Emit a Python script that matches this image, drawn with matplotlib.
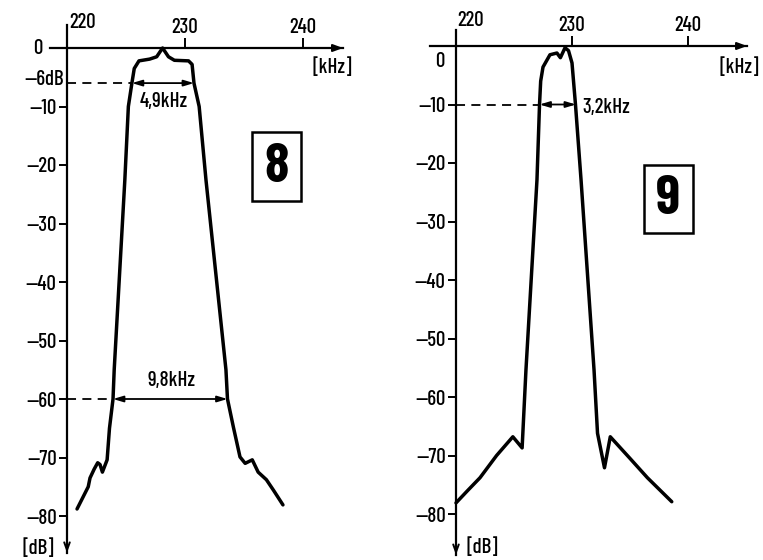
import matplotlib
matplotlib.use('Agg')
import matplotlib.pyplot as plt
from matplotlib.patches import Rectangle

plt.rcParams['font.family'] = ['Barlow Condensed', 'DejaVu Sans']
plt.rcParams['font.weight'] = 'medium'

# curve 8: frequency [kHz] and attenuation [dB]
freq_8 = [220.85, 221.3, 221.8, 221.95, 222.3, 222.6, 222.8, 223.0, 223.4, 223.6,
          223.9, 224.0, 224.9, 225.2, 225.5, 225.7, 226.1, 227.0, 227.6, 228.1,
          228.6, 229.1, 230.3, 230.6, 230.76, 231.2, 231.78, 233.47, 233.6, 234.1,
          234.66, 235.1, 235.7, 236.2, 236.9, 237.5, 238.3]
db_8 = [-78.8, -77.0, -75.0, -73.5, -72.0, -70.9, -71.2, -72.5, -70.4, -65.0,
        -60.0, -55.0, -22.6, -10.0, -6.0, -3.5, -2.2, -1.9, -1.5, 0.0,
        -1.5, -2.1, -2.2, -2.8, -6.0, -10.0, -22.6, -55.0, -60.0, -64.8,
        -69.9, -71.0, -70.4, -72.5, -73.8, -75.6, -78.1]

# curve 9
freq_9 = [220.0, 221.0, 222.07, 223.5, 224.9, 225.7, 226.03, 226.98, 227.2, 227.3,
          227.5, 228.1, 228.7, 229.0, 229.4, 229.7, 230.0, 230.3, 230.78, 231.9,
          232.2, 232.8, 233.3, 235.0, 236.5, 238.6]
db_9 = [-78.1, -76.0, -73.8, -70.0, -66.8, -68.7, -55.4, -22.9, -10.0, -6.0,
        -3.6, -1.5, -1.2, -2.0, -0.3, -0.8, -2.9, -10.0, -22.9, -55.4,
        -66.2, -72.1, -66.8, -70.5, -73.8, -77.9]

x_ticks = [230, 240]
y_ticks = [-10, -20, -30, -40, -50, -60, -70, -80]
y_labels = ['\u201410', '\u201420', '\u201430', '\u201440',
            '\u201450', '\u201460', '\u201470', '\u201480']

# bandwidth markers: (level, left edge, right edge, text)
bw_8 = [(-6, 225.5, 230.76, '4,9kHz'), (-60, 223.9, 233.6, '9,8kHz')]
bw_9 = [(-10, 227.2, 230.34, '3,2kHz')]

W, H = 763, 560
fig = plt.figure(figsize=(W / 100, H / 100), dpi=100)
FS = 15


def make_axes(x0_px, px_per_khz, y0_px, px_per_db, xlim, ylim):
    left = x0_px + (xlim[0] - 220) * px_per_khz
    right = x0_px + (xlim[1] - 220) * px_per_khz
    top = y0_px - ylim[1] * px_per_db
    bottom = y0_px - ylim[0] * px_per_db
    ax = fig.add_axes([left / W, 1 - bottom / H, (right - left) / W, (bottom - top) / H])
    ax.set_xlim(*xlim)
    ax.set_ylim(*ylim)
    ax.patch.set_alpha(0)
    return ax


def setup(ax, xaxis_from, xaxis_to, yaxis_top, yaxis_bottom):
    for s in ['bottom', 'right']:
        ax.spines[s].set_visible(False)
    ax.spines['left'].set_position(('data', 220))
    ax.spines['top'].set_position(('data', 0))
    ax.spines['left'].set_bounds(yaxis_bottom, yaxis_top)
    ax.spines['top'].set_bounds(xaxis_from, xaxis_to)
    ax.spines['left'].set_linewidth(1.6)
    ax.spines['top'].set_linewidth(1.6)
    ax.xaxis.set_ticks_position('top')
    ax.set_xticks(x_ticks, [str(t) for t in x_ticks])
    ax.tick_params(axis='x', direction='out', length=7, width=1.4, pad=1, labelsize=FS)
    ax.set_yticks(y_ticks, y_labels)
    ax.tick_params(axis='y', direction='out', length=6, width=1.4, pad=1.5, labelsize=FS)
    ax.annotate('', xy=(xaxis_to, 0), xytext=(xaxis_to - 1.5, 0),
                arrowprops=dict(arrowstyle='-|>,head_length=0.6,head_width=0.22',
                                color='black', lw=1.4, shrinkA=0, shrinkB=0))
    ax.annotate('', xy=(220, yaxis_bottom), xytext=(220, yaxis_bottom + 4),
                arrowprops=dict(arrowstyle='->,head_length=0.55,head_width=0.2',
                                color='black', lw=1.4, shrinkA=0, shrinkB=0))
    ax.text(220.15, 4.4, '220', ha='left', va='center', fontsize=FS)


def bandwidth(ax, marks, text_pos):
    for (lvl, f1, f2, txt), (tx, ty, ha) in zip(marks, text_pos):
        ax.plot([220, f1], [lvl, lvl], color='black', lw=1.3, ls=(0, (5, 3.5)))
        ax.annotate('', xy=(f2, lvl), xytext=(f1, lvl),
                    arrowprops=dict(arrowstyle='<|-|>,head_length=0.6,head_width=0.18',
                                    color='black', lw=1.3, shrinkA=0, shrinkB=0))
        ax.text(tx, ty, txt, ha=ha, va='center', fontsize=FS)


# ---- panel 8
ax1 = make_axes(67, 11.8, 48, 5.85, (217, 245), (-87.5, 5))
setup(ax1, 218.6, 243.4, 3.9, -86.3)
ax1.plot(freq_8, db_8, color='black', lw=2.5, solid_joinstyle='round', solid_capstyle='round')
bandwidth(ax1, bw_8, [(228.2, -9.1, 'center'), (228.9, -56.9, 'center')])
ax1.text(217.5, 0, '0', ha='center', va='center', fontsize=FS)
ax1.text(219.7, -5.4, '\u20146dB', ha='right', va='center', fontsize=FS)
ax1.text(242.5, -3.3, '[kHz]', ha='center', va='center', fontsize=FS)
ax1.text(217.55, -85.5, '[dB]', ha='center', va='center', fontsize=FS, clip_on=False)
ax1.add_patch(Rectangle((235.7, -26.2), 4.15, 11.8, fill=False, lw=1.8, color='black'))
ax1.text(237.78, -20.4, '8', ha='center', va='center', fontsize=40, fontweight='bold')

# ---- panel 9
ax2 = make_axes(456, 11.6, 46, 5.85, (216, 246), (-87.5, 5))
setup(ax2, 217.8, 245.1, 2.7, -87.0)
ax2.plot(freq_9, db_9, color='black', lw=2.5, solid_joinstyle='round', solid_capstyle='round')
bandwidth(ax2, bw_9, [(230.9, -10.5, 'left')])
ax2.text(218.6, -2.6, '0', ha='center', va='center', fontsize=FS)
ax2.text(244.4, -3.6, '[kHz]', ha='center', va='center', fontsize=FS)
ax2.text(222.3, -85.6, '[dB]', ha='center', va='center', fontsize=FS, clip_on=False)
ax2.add_patch(Rectangle((236.2, -31.9), 4.2, 11.6, fill=False, lw=1.8, color='black'))
ax2.text(238.3, -26.2, '9', ha='center', va='center', fontsize=40, fontweight='bold')

fig.savefig('out.png', dpi=100)
